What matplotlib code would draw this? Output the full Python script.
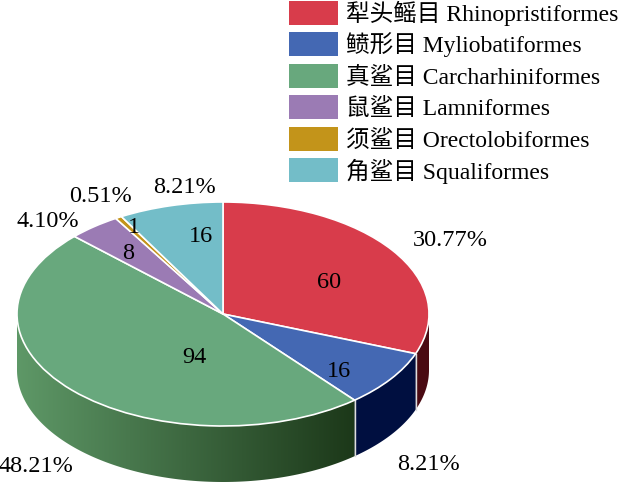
import matplotlib
matplotlib.use('Agg')
import matplotlib.pyplot as plt
import numpy as np
from matplotlib.patches import Polygon, Rectangle
from matplotlib.transforms import Affine2D
from matplotlib.colors import LinearSegmentedColormap

# data
orders_cn = ['犁头鳐目', '鲼形目', '真鲨目', '鼠鲨目', '须鲨目', '角鲨目']
orders_en = ['Rhinopristiformes', 'Myliobatiformes', 'Carcharhiniformes',
             'Lamniformes', 'Orectolobiformes', 'Squaliformes']
counts = [60, 16, 94, 8, 1, 16]

# styles
colors = ['#D83C4B', '#4468B3', '#68A87D', '#9B7BB4', '#C3941A', '#73BDC8']
side_colors = ['#4A0A12', '#000F40', None, '#5B4470', '#6E5210', '#3E6E76']
green_side = LinearSegmentedColormap.from_list('gside', ['#5E9867', '#1C3819'])
fonts = ['Liberation Serif', 'Noto Sans CJK SC']

# layout, pixel coords (label centre x, baseline y)
W, H = 626, 483
CX, CY, RX, RY, DEPTH = 223, 314, 206, 112, 56
pct_pos = [(450, 246), (429, 470), (36, 472), (48, 227), (100, 202), (185, 193)]
num_pos = [(329, 288), (339, 377), (194, 363), (128, 259), (134, 233), (201, 242)]

fig = plt.figure(figsize=(W / 100, H / 100), dpi=100)
ax = fig.add_axes([0, 0, 1, 1])
ell = Affine2D().scale(RX, -RY).translate(CX, CY) + ax.transData

wedges, _ = ax.pie(counts, colors=colors, startangle=90, counterclock=False,
                   wedgeprops=dict(edgecolor='white', linewidth=1.2, zorder=3))
for w in wedges:
    w.set_transform(ell)

# side walls of the front half
total = float(sum(counts))
bounds = np.concatenate([[0], np.cumsum(counts)]) * 360. / total
d = DEPTH / RY
for i in range(len(counts)):
    lo, hi = max(bounds[i], 90.), min(bounds[i + 1], 270.)
    if lo >= hi:
        continue
    t = np.radians(np.linspace(lo, hi, 120))
    top = np.column_stack([np.sin(t), np.cos(t)])
    bot = np.column_stack([np.sin(t), np.cos(t) - d])
    pts = np.vstack([top, bot[::-1]])
    if side_colors[i] is None:
        poly = Polygon(pts, transform=ell, facecolor='none', edgecolor='none', zorder=1)
        ax.add_patch(poly)
        xs = CX + RX * np.sin(t)
        img = ax.imshow(np.linspace(0, 1, 256)[None, :], cmap=green_side, aspect='auto',
                        extent=(xs.min(), xs.max(), CY + RY + DEPTH + 5, CY - RY),
                        interpolation='bilinear', zorder=1)
        img.set_clip_path(poly)
    else:
        ax.add_patch(Polygon(pts, transform=ell, facecolor=side_colors[i],
                             edgecolor='none', zorder=1))

for b in bounds:
    if 90. < b < 270.:
        s, c = np.sin(np.radians(b)), np.cos(np.radians(b))
        ax.plot([s, s], [c, c - d], color='#dddddd', lw=1, transform=ell, zorder=2)

for i, n in enumerate(counts):
    ax.text(num_pos[i][0], num_pos[i][1], str(n), ha='center', va='baseline',
            fontsize=17.5, family=fonts, zorder=5)
    ax.text(pct_pos[i][0], pct_pos[i][1], '%.2f%%' % (100. * n / total),
            ha='center', va='baseline', fontsize=17.5, family=fonts, zorder=5)

# legend drawn by hand
for i in range(len(counts)):
    ax.add_patch(Rectangle((289, 0.5 + 31.5 * i), 49, 24, facecolor=colors[i],
                           edgecolor='none', zorder=4))
    ax.text(346, 20.5 + 31.6 * i, orders_cn[i] + ' ' + orders_en[i], ha='left',
            va='baseline', fontsize=17, family=fonts, zorder=5)

ax.set_xlim(0, W)
ax.set_ylim(H, 0)
ax.set_aspect('auto')
ax.axis('off')

plt.savefig('out.png', dpi=100)
